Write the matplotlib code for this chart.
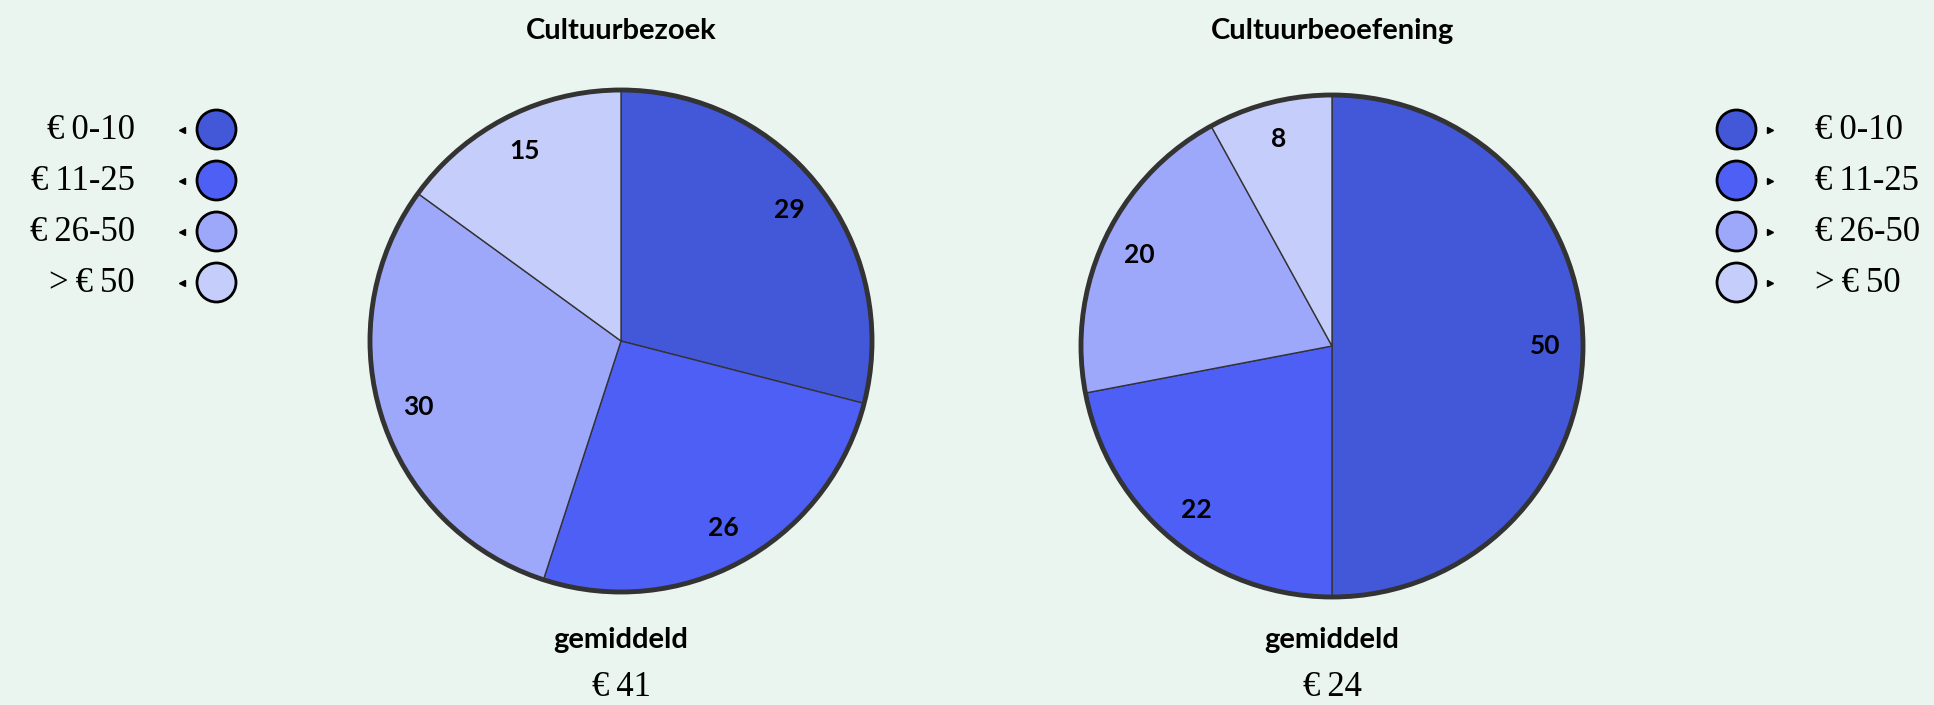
import matplotlib
matplotlib.use("Agg")
import matplotlib.pyplot as plt
from matplotlib.patches import Circle

# spending per person, share of respondents (%)
categories = ["€\u20090-10", "€\u200911-25", "€\u200926-50", ">\u2009€\u200950"]
bezoek = [29, 26, 30, 15]
beoefening = [50, 22, 20, 8]
titles = ["Cultuurbezoek", "Cultuurbeoefening"]
averages = ["€\u200941", "€\u200924"]

colors = ["#4357d9", "#4d5ff5", "#9ea8fa", "#c5cdfa"]
bg = "#e9f5ee"
edge = "#333333"

W, H = 1934, 705
fig = plt.figure(figsize=(W / 100, H / 100), dpi=100, facecolor=bg)

sans = ["Lato", "DejaVu Sans"]
serif = ["Liberation Serif", "DejaVu Serif"]

# overlay in pixel units for titles, legends and averages
ov = fig.add_axes([0, 0, 1, 1])
ov.set_xlim(0, W)
ov.set_ylim(H, 0)
ov.axis("off")
ov.patch.set_alpha(0)

PAD = 1.03


def draw_pie(values, cx, cy, r, title, avg):
    rr = r * PAD
    ax = fig.add_axes([(cx - rr) / W, (H - cy - rr) / H, 2 * rr / W, 2 * rr / H])
    total = sum(values)
    ax.pie(values, colors=colors, startangle=90, counterclock=False, radius=1,
           wedgeprops=dict(edgecolor=edge, linewidth=1),
           autopct=lambda p: f"{p * total / 100:.0f}", pctdistance=0.85,
           textprops=dict(fontsize=19, fontweight="bold", family=sans, color="black"))
    ax.add_patch(Circle((0, 0), 1, fill=False, edgecolor=edge, linewidth=3.5))
    ax.set_xlim(-PAD, PAD)
    ax.set_ylim(-PAD, PAD)
    ax.set_aspect("equal")
    ax.axis("off")
    ov.text(cx, 31, title, ha="center", va="center", fontsize=21,
            fontweight="bold", family=sans)
    ov.text(cx, 640, "gemiddeld", ha="center", va="center", fontsize=21,
            fontweight="bold", family=sans)
    ov.text(cx, 687, avg, ha="center", va="center", fontsize=25, family=serif)


draw_pie(bezoek, 621, 341, 251, titles[0], averages[0])
draw_pie(beoefening, 1332, 346, 251, titles[1], averages[1])

# legends on both sides
ys = [129.5, 180.5, 231.5, 282.5]
for y, lab, c in zip(ys, categories, colors):
    ov.add_patch(Circle((216.5, y), 19.5, facecolor=c, edgecolor="black", linewidth=2))
    ov.plot(182, y, marker="<", markersize=4, color="black")
    ov.text(135, y + 1, lab, ha="right", va="center", fontsize=25, family=serif)

    ov.add_patch(Circle((1736.5, y), 19.5, facecolor=c, edgecolor="black", linewidth=2))
    ov.plot(1770, y, marker=">", markersize=4, color="black")
    ov.text(1815, y + 1, lab, ha="left", va="center", fontsize=25, family=serif)

fig.savefig("out.png", dpi=100, facecolor=bg)
